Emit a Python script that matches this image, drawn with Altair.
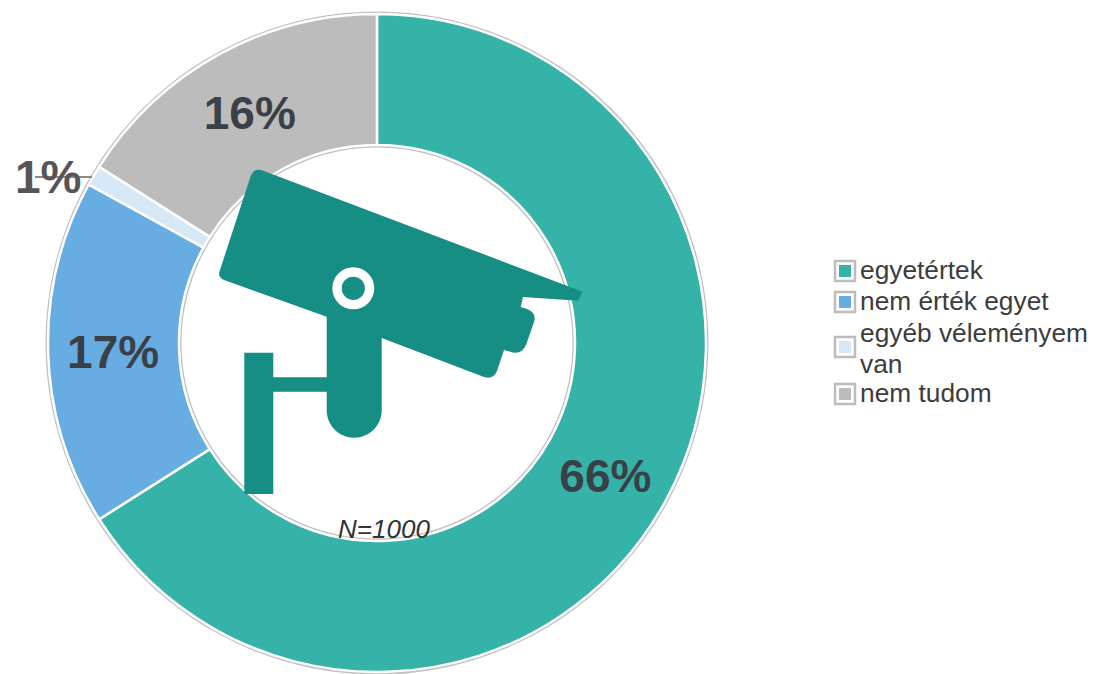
import altair as alt
import pandas as pd

categories = ["egyetértek", "nem érték egyet", "egyéb véleményem|van", "nem tudom"]
values = [66, 17, 1, 16]
lead_labels = ["66%", "", "", ""]
inner_labels = ["", "17%", "", "16%"]
outer_labels = ["", "", "1%", ""]
colors = ["#36b3a8", "#68ade2", "#d6e8f6", "#bcbcbc"]
order = [0, 1, 2, 3]
swatch_rows = [263, 294, 339, 386]
label_rows = [263, 294, 326, 386]

CX, CY = 377, 343  # ring centre in page pixels
cx, cy = CX - 8, CY - 8
FONT = "Liberation Sans"


def P(x, y):
    return f"{x - CX:.1f} {y - CY:.1f}"


icon = " ".join([
    "M", P(251, 175), "Q", P(255, 167), P(264, 171),
    "L", P(582.7, 291.7), "L", P(578, 300.7), "L", P(523, 297), "L", P(520.7, 307),
    "L", P(527, 309), "Q", P(537, 313), P(534, 322),
    "L", P(526, 345), "Q", P(522, 354), P(513, 352.5), "L", P(504, 350),
    "L", P(497, 371), "Q", P(493, 380), P(484, 377),
    "L", P(381.7, 338), "L", P(381.7, 410.2),
    "A 27.5 27.5 0 0 1", P(326.7, 410.2),
    "L", P(326.7, 391.7), "L", P(273.3, 391.7), "L", P(273.3, 494), "L", P(244.3, 494),
    "L", P(244.3, 352.7), "L", P(273.3, 352.7), "L", P(273.3, 377.3), "L", P(326.7, 377.3),
    "L", P(326.7, 316.7), "L", P(224, 280), "Q", P(217, 277), P(220, 270), "Z",
])

df = pd.DataFrame({
    "cat": categories, "value": values, "lead": lead_labels, "inner": inner_labels,
    "outer": outer_labels, "idx": order,
})
one = df.head(1)

pos = dict(x=alt.value(cx), y=alt.value(cy))
theta = alt.Theta("value:Q", stack=True)
idx = alt.Order("idx:Q")
color = alt.Color(
    "cat:N", sort=None, legend=None,
    scale=alt.Scale(domain=categories, range=colors),
)
swatch_y = alt.Y("idx:Q", axis=None, scale=alt.Scale(domain=order, range=swatch_rows, zero=False, nice=False))
label_y = alt.Y("idx:Q", axis=None, scale=alt.Scale(domain=order, range=label_rows, zero=False, nice=False))
big = dict(font=FONT, fontWeight="bold", fontSize=46)

backdrop = alt.Chart(one).mark_arc(
    radius=331.5, radius2=195.5, theta=0, theta2=6.2832, color="#c0c0c0"
).encode(**pos)

arcs = alt.Chart(df).mark_arc(
    radius=329, radius2=198, stroke="#ffffff", strokeWidth=2.5
).encode(theta=theta, order=idx, color=color, **pos)

lead = alt.Chart(df).mark_text(radius=264, dx=-3, dy=8, color="#3a4048", **big).encode(
    theta=theta, order=idx, detail="cat:N", text="lead:N", **pos
)
inner = alt.Chart(df).mark_text(radius=264, dy=3, color="#3a4048", **big).encode(
    theta=theta, order=idx, detail="cat:N", text="inner:N", **pos
)
outer = alt.Chart(df).mark_text(radius=368, dx=-12, dy=23, color="#555555", **big).encode(
    theta=theta, order=idx, detail="cat:N", text="outer:N", **pos
)

leader = alt.Chart(one).mark_rule(color="#8a8a8a", strokeWidth=2).encode(
    x=alt.value(27), x2=alt.value(84), y=alt.value(169)
)

camera = alt.Chart(one).mark_point(
    shape=icon, size=4, filled=True, color="#178e84", opacity=1, strokeWidth=0
).encode(**pos)

ring = alt.Chart(one).mark_point(
    shape="circle", size=1060, filled=False, color="#ffffff", opacity=1, strokeWidth=9.4
).encode(x=alt.value(345.3), y=alt.value(280.3))

note = alt.Chart(one).mark_text(
    text="N=1000", font=FONT, fontStyle="italic", fontSize=26, color="#333333"
).encode(x=alt.value(376), y=alt.value(522))

frames = alt.Chart(df).mark_point(
    shape="square", size=400, filled=False, color="#bdbdbd", opacity=1, strokeWidth=2.5
).encode(x=alt.value(837), y=swatch_y)
chips = alt.Chart(df).mark_point(
    shape="square", size=144, filled=True, opacity=1, strokeWidth=0
).encode(x=alt.value(837), y=swatch_y, color=color)
labels = alt.Chart(df).mark_text(
    align="left", baseline="middle", font=FONT, fontSize=26.3, color="#3c3c3c",
    lineBreak="|", lineHeight=31,
).encode(x=alt.value(852), y=label_y, text="cat:N")

legend = alt.layer(frames, chips, labels).resolve_scale(y="independent")

chart = alt.layer(
    backdrop, arcs, leader, lead, inner, outer, camera, ring, note, legend
).resolve_scale(y="independent").properties(
    width=1081, height=666, padding=0, autosize=alt.AutoSizeParams(type="none")
).configure_view(stroke=None)

chart.save("out.html", embed_options={"renderer": "svg", "actions": False})
